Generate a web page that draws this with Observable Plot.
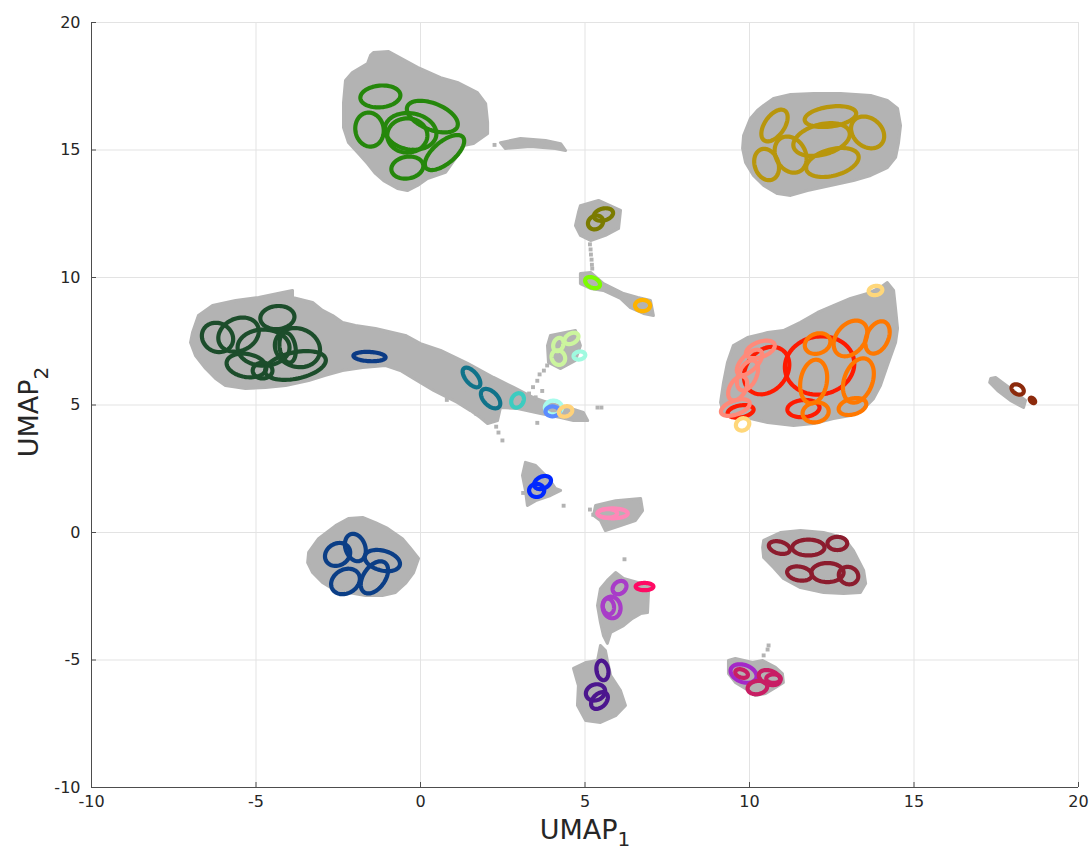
<!DOCTYPE html>
<html><head><meta charset="utf-8">
<script src="https://cdn.jsdelivr.net/npm/d3@7"></script>
<script src="https://cdn.jsdelivr.net/npm/@observablehq/plot@0.6"></script>
<style>body{margin:0;background:#fff}</style>
</head><body><div id="chart"></div>
<script>
// ---------- axis ticks ----------
const xTicks = [-10, -5, 0, 5, 10, 15, 20];
const yTicks = [-10, -5, 0, 5, 10, 15, 20];

// ---------- gray point clouds (outlines in UMAP units) ----------
const blobGreen = [[-1.43,18.82],[-0.97,18.86],[-0.76,18.71],[-0.09,18.24],[0.61,17.84],[1.12,17.65],[1.73,17.25],[1.98,16.82],[2.04,16.08],[2.04,15.65],[1.61,15.25],[1.31,15.18],[1.12,14.78],[0.76,14.12],[0.21,13.88],[-0.09,13.61],[-0.40,13.41],[-0.70,13.49],[-1.12,13.80],[-1.37,14.08],[-1.61,14.47],[-1.91,14.90],[-2.19,15.29],[-2.34,15.88],[-2.34,16.86],[-2.28,17.73],[-2.07,18.04],[-1.61,18.39],[-1.52,18.71]];
const blobStreakTop = [[2.43,15.29],[3.04,15.45],[3.80,15.37],[4.26,15.25],[4.41,14.98],[4.10,15.06],[3.34,15.14],[2.58,15.06]];
const blobOlive = [[10.43,16.75],[10.73,17.02],[11.25,17.18],[11.95,17.22],[12.77,17.22],[13.68,17.14],[14.19,16.94],[14.50,16.63],[14.59,15.96],[14.53,15.29],[14.44,14.71],[14.19,14.31],[13.68,14.00],[13.16,13.80],[12.46,13.61],[11.76,13.41],[11.25,13.22],[10.85,13.29],[10.43,13.61],[10.12,14.00],[9.88,14.51],[9.79,15.06],[9.82,15.57],[10.03,16.24],[10.24,16.55]];
const blobSmallTop = [[4.86,12.82],[5.41,13.02],[6.08,12.63],[6.02,11.92],[5.62,11.65],[5.17,11.45],[4.86,11.65],[4.71,12.04],[4.80,12.55]];
const blobLimeStreak = [[4.86,10.16],[5.17,10.20],[5.56,9.76],[6.17,9.37],[6.60,9.22],[6.99,9.10],[7.08,8.51],[6.78,8.59],[6.38,8.82],[6.08,9.18],[5.56,9.49],[5.17,9.57],[4.86,9.76]];
const blobDarkGreen = [[-6.93,7.84],[-6.75,8.51],[-6.32,8.90],[-5.62,9.10],[-4.92,9.22],[-4.19,9.41],[-3.89,9.49],[-3.89,9.22],[-3.28,9.02],[-2.98,8.71],[-2.67,8.51],[-2.37,8.24],[-1.98,8.12],[-1.37,8.00],[-0.85,7.84],[-0.46,7.73],[0.00,7.41],[0.61,7.14],[1.43,6.63],[2.22,6.08],[2.83,5.69],[3.43,5.29],[3.95,5.06],[4.47,4.90],[4.95,4.71],[5.08,4.39],[4.65,4.39],[4.26,4.51],[3.65,4.67],[2.95,4.86],[2.43,4.90],[2.34,4.39],[2.04,4.27],[1.82,4.51],[1.52,4.78],[1.12,5.10],[0.40,5.57],[-0.21,6.04],[-0.61,6.35],[-1.06,6.55],[-1.76,6.47],[-2.37,6.35],[-2.89,6.16],[-3.40,5.96],[-4.10,5.76],[-4.71,5.69],[-5.32,5.65],[-5.93,5.76],[-6.23,6.04],[-6.53,6.43],[-6.84,6.94],[-6.99,7.45]];
const blobPaleGreen = [[3.95,7.73],[4.71,7.92],[4.86,7.33],[4.71,6.75],[4.26,6.43],[3.89,6.67],[3.86,7.33]];
const blobRed = [[9.51,7.33],[9.94,7.65],[10.55,7.84],[11.03,7.92],[11.55,8.24],[12.07,8.63],[12.55,8.90],[13.07,9.18],[13.59,9.37],[13.98,9.61],[14.19,9.80],[14.38,9.49],[14.44,8.78],[14.50,8.00],[14.44,7.45],[14.19,6.55],[13.98,5.76],[13.77,5.25],[13.47,4.86],[13.07,4.59],[12.55,4.47],[11.95,4.27],[11.34,4.20],[10.55,4.31],[10.03,4.47],[9.51,4.51],[9.21,4.67],[9.12,5.10],[9.21,5.88],[9.33,6.67]];
const blobBrown = [[17.33,6.04],[17.48,6.08],[17.93,5.65],[18.39,5.18],[18.33,4.90],[17.93,5.18],[17.54,5.57],[17.30,5.88]];
const blobNavy = [[-3.40,-0.78],[-3.10,-0.24],[-2.58,0.27],[-2.19,0.55],[-1.76,0.59],[-1.37,0.39],[-1.00,0.16],[-0.55,-0.24],[-0.30,-0.63],[-0.06,-1.02],[-0.21,-1.57],[-0.46,-2.00],[-0.76,-2.35],[-1.16,-2.47],[-1.67,-2.47],[-2.19,-2.35],[-2.67,-2.20],[-2.98,-1.96],[-3.28,-1.57],[-3.43,-1.18]];
const blobBlue = [[3.19,2.75],[3.50,2.63],[3.89,2.12],[4.10,1.73],[4.26,1.65],[3.95,1.45],[3.50,1.25],[3.25,1.06],[3.19,1.65],[3.10,2.24]];
const blobPink = [[5.32,1.06],[5.93,1.25],[6.69,1.33],[6.75,0.86],[6.53,0.47],[6.08,0.27],[5.62,0.08],[5.47,0.47],[5.26,0.67]];
const blobPurple = [[5.93,-1.57],[6.17,-1.80],[6.60,-1.96],[6.99,-2.00],[6.93,-2.35],[6.90,-3.14],[6.69,-3.18],[6.44,-3.37],[6.17,-3.65],[5.78,-3.92],[5.68,-4.35],[5.56,-4.04],[5.47,-3.53],[5.38,-2.86],[5.47,-2.20],[5.68,-1.88]];
const blobIndigo = [[5.47,-4.43],[5.62,-4.63],[5.68,-5.02],[5.78,-5.61],[6.08,-6.20],[6.23,-6.78],[5.93,-7.18],[5.47,-7.45],[5.02,-7.37],[4.77,-6.78],[4.80,-6.00],[4.65,-5.33],[5.02,-5.10],[5.38,-5.02]];
const blobMaroon = [[10.43,-0.31],[10.94,0.00],[11.55,0.08],[12.25,0.00],[12.86,-0.20],[13.16,-0.71],[13.47,-1.49],[13.53,-2.00],[13.37,-2.35],[12.86,-2.39],[12.25,-2.35],[11.55,-2.16],[11.03,-1.80],[10.73,-1.37],[10.43,-0.98],[10.40,-0.59]];
const blobViolet = [[9.36,-5.02],[9.57,-4.94],[10.09,-5.10],[10.40,-5.02],[10.79,-5.29],[11.00,-5.53],[11.03,-5.88],[10.79,-6.08],[10.49,-6.31],[10.18,-6.39],[9.97,-6.20],[9.57,-5.88],[9.36,-5.53]];
// scattered single gray points
const strayPoints = [[2.37,3.92],[2.49,3.61],[5.38,4.90],[5.50,4.90],[10.43,-4.82],[10.55,-4.59],[10.58,-4.43],[2.25,15.20],[2.55,15.22],
  [3.55,4.30],[3.30,5.45],[3.42,5.70],[3.55,5.95],[3.62,6.20],[3.75,6.35],[3.85,6.55],[3.50,5.30],[3.70,5.55],
  [5.15,11.30],[5.17,11.10],[5.18,10.90],[5.20,10.70],[5.21,10.50],[5.22,10.35],
  [3.12,1.55],[4.35,1.05],[5.15,0.90],[5.25,0.70],[6.20,-1.05],[2.30,4.15],[1.70,4.65],[0.80,5.20],[1.30,5.60]];

// ---------- ellipses: [centre x, centre y, semi-axis a, semi-axis b, tilt in degrees] ----------
const ellGreen = [[-1.22,17.10,0.61,0.33,-5],[0.36,16.31,0.82,0.40,22],[-1.55,15.80,0.52,0.43,80],[-0.30,15.73,0.79,0.55,10],[-0.40,15.57,0.61,0.52,0],[0.73,14.90,0.73,0.33,-40],[-0.40,14.31,0.49,0.33,-10]];
const ellGold = [[10.76,15.96,0.55,0.30,-55],[12.46,16.31,0.79,0.30,-8],[13.59,15.69,0.55,0.43,40],[12.19,15.41,0.88,0.46,-15],[11.25,14.82,0.58,0.45,60],[10.52,14.43,0.49,0.36,70],[12.52,14.51,0.82,0.40,-15]];
const ellOlive = [[5.32,12.16,0.24,0.20,-30],[5.56,12.47,0.30,0.18,-15]];
const ellLime = [[5.23,9.80,0.24,0.15,25]];
const ellAmber = [[6.75,8.90,0.23,0.17,0]];
const ellDarkGreen = [[-4.35,8.43,0.52,0.35,-5],[-6.17,7.65,0.49,0.43,30],[-5.53,7.76,0.64,0.49,-25],[-4.77,7.25,0.79,0.55,0],[-3.74,7.25,0.70,0.58,20],[-5.29,6.55,0.61,0.35,10],[-3.80,6.55,0.94,0.40,-12],[-4.04,7.25,0.46,0.24,80],[-4.80,6.35,0.30,0.24,0]];
const ellNavySmall = [[-1.55,6.90,0.49,0.14,3]];
const ellTeal = [[1.55,6.08,0.36,0.18,50],[2.13,5.25,0.36,0.21,45]];
const ellTurquoise = [[2.95,5.18,0.23,0.18,-60]];
const ellPaleCyan = [[4.04,4.90,0.26,0.21,0]];
const ellCornflower = [[4.01,4.75,0.21,0.15,0]];
const ellLightOrange = [[4.41,4.75,0.21,0.15,-20]];
const ellPaleGreen = [[4.59,7.61,0.23,0.15,-30],[4.19,7.37,0.21,0.15,-70],[4.19,6.86,0.23,0.20,60]];
const ellAqua = [[4.83,6.94,0.18,0.12,-10]];
const ellRed = [[12.13,6.55,1.06,0.88,-10],[10.52,6.35,0.79,0.61,-50],[11.64,4.86,0.49,0.26,-5],[9.73,4.75,0.40,0.18,-10]];
const ellSalmon = [[10.33,7.18,0.46,0.23,-20],[10.00,6.67,0.49,0.24,-45],[9.94,6.16,0.49,0.27,-65],[9.64,5.65,0.40,0.24,-60],[9.57,4.90,0.46,0.21,-20]];
const ellOrange = [[12.07,7.41,0.40,0.30,-20],[13.07,7.61,0.61,0.43,-50],[13.89,7.65,0.52,0.33,-65],[11.95,5.92,0.67,0.40,-80],[13.31,5.96,0.70,0.43,-70],[12.01,4.71,0.40,0.30,-10],[13.13,4.94,0.43,0.24,-15]];
const ellButter = [[13.83,9.49,0.21,0.14,-10],[9.79,4.24,0.21,0.18,-30]];
const ellBrown = [[18.15,5.61,0.20,0.14,30],[18.60,5.18,0.10,0.06,45]];
const ellNavy = [[-1.98,-0.59,0.43,0.30,70],[-2.52,-0.86,0.40,0.33,-30],[-1.16,-1.10,0.55,0.30,15],[-2.28,-1.92,0.46,0.36,-30],[-1.40,-1.76,0.55,0.33,-55]];
const ellBlue = [[3.71,1.96,0.27,0.18,-25],[3.53,1.65,0.23,0.20,0]];
const ellPink = [[5.84,0.75,0.46,0.15,0],[5.68,0.75,0.30,0.13,0]];
const ellPurple = [[6.05,-2.16,0.23,0.18,-40],[5.81,-2.94,0.33,0.27,80],[5.71,-2.90,0.24,0.17,80]];
const ellRose = [[6.81,-2.12,0.27,0.11,0]];
const ellIndigo = [[5.53,-5.41,0.30,0.18,80],[5.32,-6.27,0.30,0.24,-20],[5.44,-6.59,0.30,0.20,-45]];
const ellMaroon = [[10.91,-0.59,0.33,0.18,15],[11.79,-0.59,0.49,0.24,0],[12.67,-0.43,0.30,0.20,0],[11.52,-1.61,0.38,0.21,10],[12.37,-1.57,0.49,0.29,0],[13.01,-1.69,0.30,0.26,20]];
const ellCrimson = [[10.61,-5.69,0.34,0.21,20],[10.24,-6.08,0.30,0.20,-10],[9.76,-5.53,0.20,0.12,20],[10.73,-5.73,0.22,0.13,0]];
const ellViolet = [[9.82,-5.53,0.41,0.26,20]];

const ellipseGroups = [
  [ellGreen, "#25870b"], [ellGold, "#b8960c"], [ellOlive, "#7b7b00"], [ellLime, "#7cfc00"],
  [ellAmber, "#ffb300"], [ellDarkGreen, "#1c4d2b"], [ellNavySmall, "#0b3b85"], [ellTeal, "#10738a"],
  [ellTurquoise, "#3cccc0"], [ellPaleCyan, "#a8fbec"], [ellCornflower, "#5b8cff"], [ellLightOrange, "#ffd27a"],
  [ellPaleGreen, "#ccf59e"], [ellAqua, "#a0fae0"], [ellRed, "#ff1a00"], [ellSalmon, "#ff8a7a"],
  [ellOrange, "#ff7800"], [ellButter, "#ffd77a"], [ellBrown, "#8c2a0c"], [ellNavy, "#0b3e86"],
  [ellBlue, "#0028ff"], [ellPink, "#ff88b8"], [ellPurple, "#a83cc8"], [ellRose, "#ff0a64"],
  [ellIndigo, "#4c168e"], [ellMaroon, "#8c1c2e"], [ellViolet, "#a428c8"], [ellCrimson, "#c81e64"]
];
const blobs = [blobGreen, blobStreakTop, blobOlive, blobSmallTop, blobLimeStreak, blobDarkGreen, blobPaleGreen, blobRed, blobBrown, blobNavy, blobBlue, blobPink, blobPurple, blobIndigo, blobMaroon, blobViolet];

// ---------- layout ----------
const W = 1092, H = 852, ML = 91, MR = 14, MT = 22, MB = 65;
const KX = (W - ML - MR) / 30, KY = (H - MT - MB) / 30;
const GRAY = "#b3b3b3";

function ellipseOutline([cx, cy, a, b, deg]) {
  const t = deg * Math.PI / 180, pts = [];
  for (let k = 0; k < 72; k++) {
    const p = 2 * Math.PI * k / 72;
    const dx = a * Math.cos(p) * Math.cos(t) - b * Math.sin(p) * Math.sin(t);
    const dy = a * Math.cos(p) * Math.sin(t) + b * Math.sin(p) * Math.cos(t);
    pts.push([cx + dx, cy - dy * KX / KY]);
  }
  return pts;
}

const marks = [
  Plot.gridX(xTicks, {stroke: "#e3e3e3", strokeOpacity: 1}),
  Plot.gridY(yTicks, {stroke: "#e3e3e3", strokeOpacity: 1}),
  ...blobs.map(b => Plot.line(b, {x: d => d[0], y: d => d[1], fill: GRAY, stroke: GRAY, strokeWidth: 3, curve: "linear-closed"})),
  Plot.dot(strayPoints, {x: d => d[0], y: d => d[1], r: 2.2, fill: GRAY, symbol: "square"}),
];
for (const [list, color] of ellipseGroups) {
  for (const e of list) {
    marks.push(Plot.line(ellipseOutline(e), {x: d => d[0], y: d => d[1], stroke: color, strokeWidth: 4.2, curve: "linear-closed"}));
  }
}
marks.push(
  Plot.ruleX([-10], {stroke: "#4d4d4d"}),
  Plot.ruleY([-10], {stroke: "#4d4d4d"}),
  Plot.axisX(xTicks, {tickSize: -5, tickPadding: 13, tickFormat: d => String(d), label: null, stroke: "#4d4d4d", color: "#262626"}),
  Plot.axisY(yTicks, {tickSize: -5, tickPadding: 16, tickFormat: d => String(d), label: null, stroke: "#4d4d4d", color: "#262626"})
);

const chart = Plot.plot({
  width: W, height: H, marginLeft: ML, marginRight: MR, marginTop: MT, marginBottom: MB,
  x: {domain: [-10, 20]},
  y: {domain: [-10, 20]},
  style: {fontFamily: "DejaVu Sans", fontSize: "16px", color: "#262626", background: "#fff"},
  marks
});

const svg = d3.select(chart);
const xl = svg.append("text").attr("x", 585).attr("y", 839).attr("text-anchor", "middle")
  .attr("font-family", "DejaVu Sans").attr("font-size", 27).attr("fill", "#262626");
xl.append("tspan").text("UMAP");
xl.append("tspan").attr("font-size", 20).attr("dy", 7).text("1");
const yl = svg.append("text").attr("transform", "translate(38,412) rotate(-90)").attr("text-anchor", "middle")
  .attr("font-family", "DejaVu Sans").attr("font-size", 27).attr("fill", "#262626");
yl.append("tspan").text("UMAP");
yl.append("tspan").attr("font-size", 20).attr("dy", 10).text("2");

document.getElementById("chart").appendChild(chart);
</script></body></html>
